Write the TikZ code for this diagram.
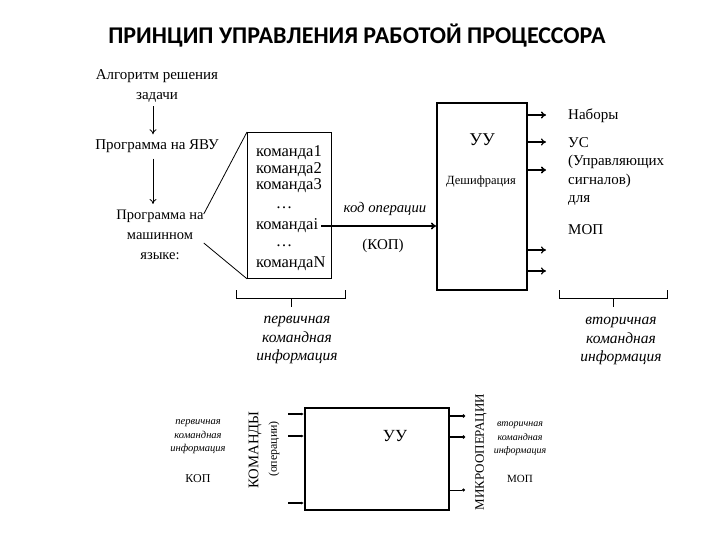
\documentclass[tikz,border=0pt]{standalone}
\usepackage{fontspec}
\setmainfont{Liberation Serif}
\newfontfamily\titlefont{Carlito}
\usetikzlibrary{arrows.meta,positioning}
\begin{document}
\begin{tikzpicture}[x=1pt,y=-1pt,>={To[length=5pt,width=7pt]},
		txt/.style={inner sep=0pt,font=\fontsize{15}{19.5}\selectfont},
		cmdtxt/.style={inner sep=0pt,font=\fontsize{16.5}{19}\selectfont},
		itxt/.style={inner sep=0pt,font=\itshape\fontsize{15.5}{18.5}\selectfont},
		small/.style={inner sep=0pt,font=\itshape\fontsize{10.5}{13.5}\selectfont}]
				\useasboundingbox (0,0) rectangle (720,540);
				% Title
				\node[font=\titlefont\bfseries\fontsize{24}{26}\selectfont] (title) at (357,36) {ПРИНЦИП УПРАВЛЕНИЯ РАБОТОЙ ПРОЦЕССОРА};
				% Left chain
				\node[txt,align=center] (alg) at (157,86) {Алгоритм решения\\задачи};
				\node[txt] (yavu) at (157,146) {Программа на ЯВУ};
				\node[txt,align=center,font=\fontsize{14.5}{20}\selectfont] (mash) at (160,235) {Программа на\\машинном\\языке:};
				\draw[->,thick,shorten <=4pt,shorten >=5pt] (alg.south -| 153,0) -- (yavu.north -| 153,0);
				\draw[->,thick,shorten <=6pt,shorten >=6pt] (yavu.south -| 153,0) -- (mash.north -| 153,0);
				% Command list
				\node[draw,thick,minimum width=84,minimum height=146,anchor=north west] (cmds) at (247,132) {};
				\node[cmdtxt,anchor=west] (cmd1) at (256,153) {команда1};
				\node[cmdtxt,anchor=west] (cmd2) at (256,170) {команда2};
				\node[cmdtxt,anchor=west] (cmd3) at (256,186) {команда3};
				\node[cmdtxt,anchor=base] (dots1) at (284,208) {\dots};
				\node[cmdtxt,anchor=west] (cmdi) at (256,226) {командаi};
				\node[cmdtxt,anchor=base] (dots2) at (284,247) {\dots};
				\node[cmdtxt,anchor=west] (cmdN) at (256,264) {командаN};
				\draw[thick] ([yshift=21pt]mash.east) -- (cmds.north west);
				\draw[thick] ([yshift=-8pt]mash.east) -- (cmds.south west);
				% Control unit
				\node[draw,line width=2pt,minimum width=90,minimum height=187,anchor=north west] (uu) at (436,102) {};
				\node[inner sep=0pt,font=\fontsize{18}{20}\selectfont] (uutxt) at (482,140) {УУ};
				\node[inner sep=0pt,font=\fontsize{12.5}{14}\selectfont] (desh) at (481,181) {Дешифрация};
				\draw[->,line width=1.6pt,shorten <=3pt] (cmdi.east) -- (cmdi.east -| uu.west);
				\node[itxt,font=\itshape\fontsize{14.7}{17}\selectfont] (kod) at (385,209) {код операции};
				\node[txt] (kop) at (383,246) {(КОП)};
				% Outputs
				\coordinate (o1) at (546,115);
				\coordinate (o2) at (546,142);
				\coordinate (o3) at (546,170);
				\coordinate (o4) at (546,250);
				\coordinate (o5) at (546,271);
				\draw[->,line width=1.4pt] (uu.east |- o1) -- (o1);
				\draw[->,line width=1.2pt] (uu.east |- o2) -- (o2);
				\draw[->,line width=1.6pt] (uu.east |- o3) -- (o3);
				\draw[->,line width=1.2pt] (uu.east |- o4) -- (o4);
				\draw[->,line width=1.2pt] (uu.east |- o5) -- (o5);
				\node[txt,anchor=west] (nab) at (568,116) {Наборы};
				\node[txt,anchor=west] (us) at (568,143) {УС};
				\node[txt,anchor=west] (upr) at (568,162) {(Управляющих};
				\node[txt,anchor=west] (sig) at (568,181) {сигналов)};
				\node[txt,anchor=west] (dlya) at (568,201) {для};
				\node[txt,anchor=west] (mop) at (568,230) {МОП};
				% Braces
				\draw[thick] (236,290) -- (236,298) -- (345,298) -- (345,290);
				\draw[thick] (291,298) -- (291,307);
				\node[itxt,align=center] (perv) at (297,340) {первичная\\командная\\информация};
				\draw[thick] (559,290) -- (559,298) -- (667,298) -- (667,290);
				\draw[thick] (613,298) -- (613,307);
				\node[itxt,align=center] (vtor) at (621,341) {вторичная\\командная\\информация};
				% Lower control unit
				\node[draw,line width=1.6pt,minimum width=144,minimum height=102,anchor=north west] (uub) at (304,407) {};
				\node[inner sep=0pt,font=\fontsize{17}{19}\selectfont] (uubtxt) at (395,436) {УУ};
				\coordinate (i1) at (288,414);
				\coordinate (i2) at (288,436);
				\coordinate (i3) at (288,503);
				\draw[-{Latex[length=3pt,width=3pt]},line width=1.3pt] (i1) -- (i1 -| uub.west);
				\draw[-{Latex[length=3pt,width=3pt]},line width=1.3pt] (i2) -- (i2 -| uub.west);
				\draw[-{Latex[length=3pt,width=3pt]},line width=1.3pt] (i3) -- (i3 -| uub.west);
				\coordinate (m1) at (465,416);
				\coordinate (m2) at (465,437);
				\coordinate (m3) at (465,490);
				\draw[-{Circle[length=3pt]},line width=1.3pt] (uub.east |- m1) -- (m1);
				\draw[-{Circle[length=3pt]},line width=1.3pt] (uub.east |- m2) -- (m2);
				\draw[-{Circle[length=3pt]},line width=0.8pt] (uub.east |- m3) -- (m3);
				\node[rotate=90,inner sep=0pt,font=\fontsize{13}{15}\selectfont] (mikro) at (481,452) {МИКРООПЕРАЦИИ};
				\node[rotate=90,inner sep=0pt,font=\fontsize{14.7}{16}\selectfont] (komandy) at (255,450) {КОМАНДЫ};
				\node[rotate=90,inner sep=0pt,font=\fontsize{11.9}{13}\selectfont] (oper) at (274,449) {(операции)};
				\node[small,align=center] (pervb) at (198,437) {первичная\\командная\\информация};
				\node[inner sep=0pt,font=\fontsize{12}{14}\selectfont] (kopb) at (198,479) {КОП};
				\node[small,align=center,font=\itshape\fontsize{10}{13.5}\selectfont] (vtorb) at (520,439) {вторичная\\командная\\информация};
				\node[inner sep=0pt,font=\fontsize{11}{13}\selectfont] (mopb) at (520,479) {МОП};
\end{tikzpicture}
\end{document}
